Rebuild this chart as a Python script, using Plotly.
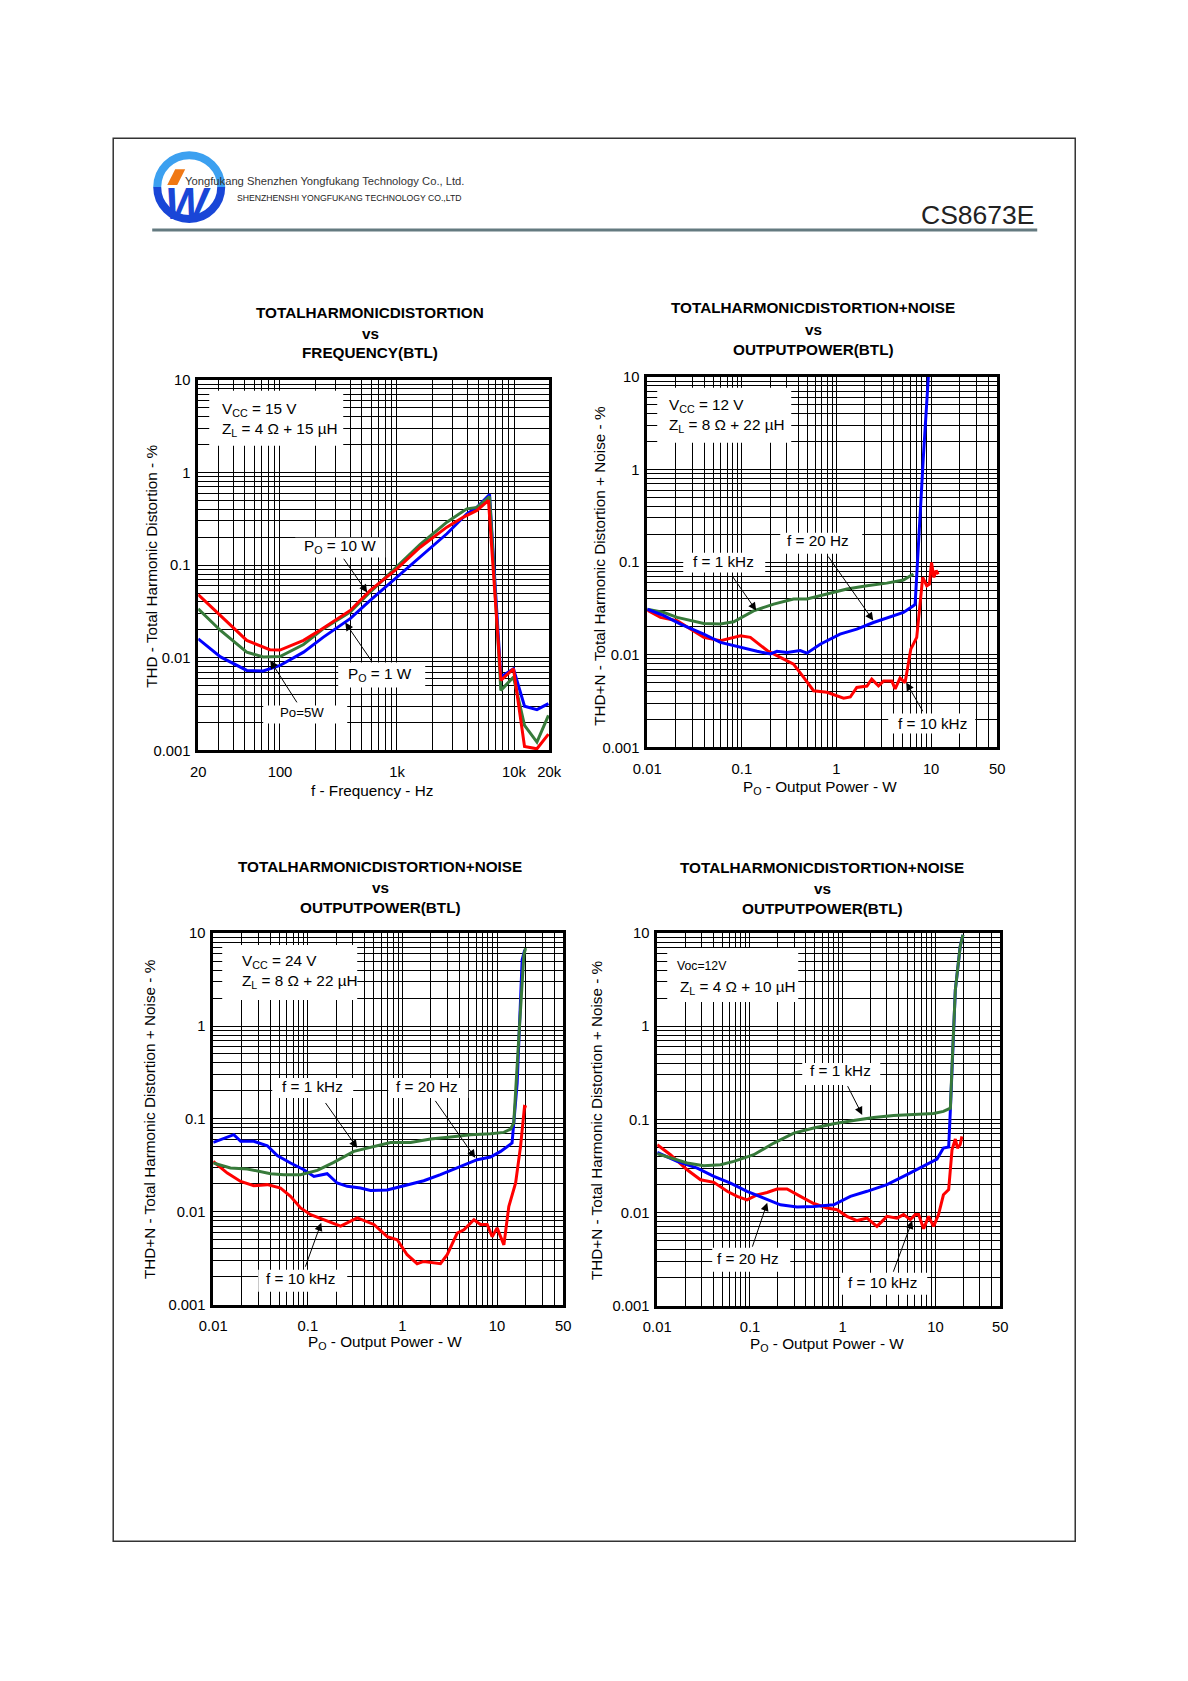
import math
import plotly.graph_objects as go

W, H = 1188, 1681          # browser window
OFF = 8                    # default body margin of the page
FW, FH = W - 2 * OFF, H - 2 * OFF
FONT = "Liberation Sans, Arial, sans-serif"
# calibration of reference pixel positions to page pixels
SX, BX = 1.0236, -14.3
SY, BY = 1.0084, -6.8
FS = 1.02

# ---------------- data ----------------
# Chart 1: THD vs frequency (BTL), VCC=15V, ZL=4ohm+15uH
freq_10w = [20, 31, 52, 82, 100, 159, 207, 398, 590, 997, 1578, 2667, 3700, 4820, 6050, 7720, 9900, 12300, 15700, 19700]
thd_10w = [0.048, 0.0286, 0.0154, 0.0122, 0.0121, 0.0154, 0.0189, 0.0324, 0.0533, 0.0912, 0.156, 0.257, 0.33, 0.389, 0.499, 0.0057, 0.0076, 0.0011, 0.00104, 0.0015]
freq_5w = [20, 31, 52, 72, 100, 159, 235, 398, 590, 997, 1578, 2667, 3950, 4820, 6180, 7720, 9900, 12300, 15700, 19700]
thd_5w = [0.0338, 0.0197, 0.0115, 0.0102, 0.0103, 0.0139, 0.0206, 0.0311, 0.0512, 0.095, 0.167, 0.291, 0.405, 0.42, 0.55, 0.00444, 0.00618, 0.00186, 0.00123, 0.00239]
freq_1w = [20, 31, 52, 72, 100, 159, 235, 398, 590, 997, 1578, 2667, 3950, 4820, 6180, 7720, 9900, 12300, 15700, 19700]
thd_1w = [0.016, 0.0102, 0.0073, 0.0072, 0.00826, 0.0115, 0.0167, 0.0264, 0.0416, 0.0743, 0.122, 0.218, 0.358, 0.42, 0.579, 0.00618, 0.0076, 0.003, 0.00275, 0.0032]

# Chart 2: THD+N vs output power, VCC=12V, ZL=8ohm+22uH
p2_1k = [0.01, 0.015, 0.0207, 0.0396, 0.0594, 0.082, 0.133, 0.217, 0.352, 0.488, 0.793, 1.29, 2.1, 3.4, 5.1, 6.5]
thd2_1k = [0.0311, 0.0286, 0.0253, 0.0218, 0.0215, 0.0227, 0.0298, 0.0352, 0.0399, 0.0399, 0.0452, 0.0512, 0.0556, 0.0593, 0.064, 0.0743]
p2_20 = [0.01, 0.015, 0.0225, 0.0396, 0.0594, 0.0966, 0.145, 0.2, 0.235, 0.3, 0.414, 0.488, 0.673, 1.09, 1.64, 2.46, 4.0, 5.1, 6.5, 6.78, 8.28, 9.35]
thd2_20 = [0.0311, 0.0264, 0.0214, 0.0167, 0.0136, 0.012, 0.0109, 0.0102, 0.0109, 0.0106, 0.0111, 0.0104, 0.013, 0.0167, 0.0189, 0.0223, 0.0264, 0.0286, 0.0338, 0.035, 1.35, 10]
p2_10k = [0.01, 0.0138, 0.0207, 0.0396, 0.0594, 0.0966, 0.123, 0.185, 0.255, 0.352, 0.45, 0.573, 0.793, 1.19, 1.4, 1.64, 2.1, 2.36, 2.78, 3.14, 3.85, 4.17, 4.7, 5.31, 6.1, 7.05, 8.15, 9.0, 9.6, 10.1, 10.7, 11.3, 11.9]
thd2_10k = [0.0303, 0.0253, 0.0233, 0.0154, 0.0142, 0.016, 0.0154, 0.0111, 0.00936, 0.00792, 0.0057, 0.00409, 0.00393, 0.0034, 0.0035, 0.00444, 0.0046, 0.00546, 0.0046, 0.0052, 0.0052, 0.00427, 0.0056, 0.005, 0.0115, 0.0154, 0.0684, 0.0556, 0.058, 0.099, 0.0684, 0.081, 0.074]

# Chart 3: THD+N vs output power, VCC=24V, ZL=8ohm+22uH
p3_20 = [0.01, 0.013, 0.0165, 0.0195, 0.0269, 0.0373, 0.0475, 0.0656, 0.0908, 0.116, 0.16, 0.204, 0.261, 0.36, 0.46, 0.69, 1.12, 1.68, 2.52, 4.11, 6.17, 8.53, 10.9, 14.4, 14.8, 16.3, 18.4, 19.6]
thd3_20 = [0.0558, 0.0622, 0.0676, 0.0573, 0.0573, 0.0514, 0.0402, 0.0335, 0.0284, 0.024, 0.0257, 0.0204, 0.0188, 0.018, 0.017, 0.0172, 0.0195, 0.0216, 0.0251, 0.0308, 0.0364, 0.0388, 0.0447, 0.055, 0.0796, 0.243, 5.16, 6.6]
p3_1k = [0.01, 0.0152, 0.0229, 0.0292, 0.0404, 0.0558, 0.0838, 0.126, 0.188, 0.306, 0.46, 0.748, 1.22, 1.98, 3.22, 5.24, 8.53, 11.8, 13.9, 15.0, 17.0, 19.2, 20.0]
thd3_1k = [0.0335, 0.0296, 0.0289, 0.0277, 0.0257, 0.025, 0.025, 0.0279, 0.034, 0.0447, 0.0498, 0.0558, 0.0558, 0.0607, 0.0637, 0.0676, 0.0693, 0.0716, 0.0778, 0.0902, 0.773, 5.85, 6.9]
p3_10k = [0.01, 0.0141, 0.0195, 0.0269, 0.0373, 0.0515, 0.0656, 0.0838, 0.107, 0.148, 0.222, 0.333, 0.499, 0.69, 0.88, 1.12, 1.43, 1.68, 2.15, 2.52, 2.97, 3.79, 4.46, 5.69, 6.68, 7.86, 8.87, 10.0, 11.8, 13.3, 15.7, 17.7, 19.5, 20.5]
thd3_10k = [0.0349, 0.0261, 0.0212, 0.0191, 0.0196, 0.018, 0.0147, 0.011, 0.0093, 0.0082, 0.007, 0.0086, 0.0073, 0.0054, 0.005, 0.00345, 0.00276, 0.00292, 0.00285, 0.00276, 0.00345, 0.0059, 0.0064, 0.0082, 0.0073, 0.0073, 0.0054, 0.0067, 0.0044, 0.0114, 0.0204, 0.0506, 0.136, 0.134]

# Chart 4: THD+N vs output power, Voc=12V, ZL=4ohm+10uH
p4_1k = [0.01, 0.0139, 0.021, 0.0318, 0.0481, 0.067, 0.11, 0.181, 0.297, 0.487, 0.8, 1.31, 2.16, 3.54, 5.82, 9.55, 12.2, 14.5, 15.1, 16.4, 18.5, 19.8]
thd4_1k = [0.0428, 0.0385, 0.034, 0.0318, 0.0326, 0.0354, 0.0418, 0.0557, 0.0713, 0.0807, 0.0899, 0.0975, 0.105, 0.11, 0.114, 0.116, 0.122, 0.132, 0.37, 2.46, 7.2, 9.6]
p4_20 = [0.01, 0.0164, 0.027, 0.0408, 0.0617, 0.093, 0.141, 0.213, 0.322, 0.487, 0.8, 1.21, 1.83, 3.0, 4.93, 7.46, 10.4, 12.2, 13.9, 14.5, 15.1, 16.4, 18.5, 19.8]
thd4_20 = [0.0442, 0.0354, 0.03, 0.0245, 0.0207, 0.0169, 0.0143, 0.0121, 0.0115, 0.0116, 0.0121, 0.0149, 0.0169, 0.0199, 0.0255, 0.0313, 0.0375, 0.0492, 0.0505, 0.127, 0.37, 2.46, 7.2, 9.6]
p4_10k = [0.01, 0.0139, 0.021, 0.0293, 0.0408, 0.0568, 0.0727, 0.093, 0.119, 0.153, 0.196, 0.251, 0.35, 0.487, 0.678, 0.869, 1.11, 1.43, 1.83, 2.34, 3.0, 3.85, 4.54, 5.36, 6.07, 6.59, 7.46, 8.44, 9.55, 10.8, 12.2, 13.9, 15.1, 16.4, 17.3, 18.5, 19.3]
thd4_10k = [0.0535, 0.0418, 0.0288, 0.0225, 0.0211, 0.0169, 0.0149, 0.0137, 0.0155, 0.0164, 0.0179, 0.0179, 0.0149, 0.0125, 0.0112, 0.0107, 0.0091, 0.0082, 0.0087, 0.0071, 0.0091, 0.0087, 0.0095, 0.0084, 0.0095, 0.0095, 0.0067, 0.0091, 0.0071, 0.0095, 0.0155, 0.0176, 0.0472, 0.0615, 0.0492, 0.0535, 0.0658]

# tick labels
y_ticks = [0.001, 0.01, 0.1, 1, 10]
y_ticktext = ["0.001", "0.01", "0.1", "1", "10"]
f_ticks = [20, 100, 1000, 10000, 20000]
f_ticktext = ["20", "100", "1k", "10k", "20k"]
p_ticks = [0.01, 0.1, 1, 10, 50]
p_ticktext = ["0.01", "0.1", "1", "10", "50"]

RED = "rgb(255,0,0)"
GREEN = "rgb(55,122,58)"
BLUE = "rgb(0,0,255)"

# minor grid positions (log decades)
y_minor = [m * 10 ** e for e in range(-3, 1) for m in range(2, 10)]
f_minor = [m * 10 ** e for e in range(1, 4) for m in range(2, 10) if 20 < m * 10 ** e < 20000]
p_minor = [m * 10 ** e for e in range(-2, 2) for m in range(2, 10) if m * 10 ** e < 50]


def PX(x):
    return (SX * x + BX - OFF) / FW


def PY(y):
    return 1 - (SY * y + BY - OFF) / FH


fig = go.Figure()

panels = [
    dict(box=(198, 549, 379, 750), xr=(20, 20000), xt=(f_ticks, f_ticktext), xm=f_minor),
    dict(box=(647, 997, 376, 747), xr=(0.01, 50), xt=(p_ticks, p_ticktext), xm=p_minor),
    dict(box=(213, 563, 933, 1305), xr=(0.01, 50), xt=(p_ticks, p_ticktext), xm=p_minor),
    dict(box=(657, 1000, 933, 1306), xr=(0.01, 50), xt=(p_ticks, p_ticktext), xm=p_minor),
]

layout_axes = {}
for i, p in enumerate(panels, start=1):
    x0, x1, y0, y1 = p["box"]
    sfx = "" if i == 1 else str(i)
    common = dict(
        type="log", showgrid=True, gridcolor="black", gridwidth=1,
        showline=True, linecolor="black", linewidth=2.5, mirror=True,
        ticks="", zeroline=False, fixedrange=True,
        tickfont=dict(size=14.5 * FS, color="black", family=FONT),
    )
    layout_axes["xaxis" + sfx] = dict(
        common, domain=[PX(x0), PX(x1)], anchor="y" + sfx,
        range=[math.log10(p["xr"][0]), math.log10(p["xr"][1])],
        tickmode="array", tickvals=p["xt"][0], ticktext=p["xt"][1],
        ticklabelstandoff=6,
        minor=dict(tickmode="array", tickvals=p["xm"], showgrid=True,
                   gridcolor="black", gridwidth=1, ticks=""),
    )
    layout_axes["yaxis" + sfx] = dict(
        common, domain=[PY(y1), PY(y0)], anchor="x" + sfx,
        range=[-3, 1], tickmode="array", tickvals=y_ticks, ticktext=y_ticktext,
        ticklabelstandoff=2,
        minor=dict(tickmode="array", tickvals=y_minor, showgrid=True,
                   gridcolor="black", gridwidth=1, ticks=""),
    )


def add_line(x, y, color, idx, name):
    sfx = "" if idx == 1 else str(idx)
    fig.add_trace(go.Scatter(x=x, y=y, mode="lines", name=name,
                             line=dict(color=color, width=3),
                             xaxis="x" + sfx, yaxis="y" + sfx,
                             showlegend=False, hoverinfo="skip"))


add_line(freq_1w, thd_1w, BLUE, 1, "PO = 1 W")
add_line(freq_5w, thd_5w, GREEN, 1, "PO = 5 W")
add_line(freq_10w, thd_10w, RED, 1, "PO = 10 W")

add_line(p2_1k, thd2_1k, GREEN, 2, "f = 1 kHz")
add_line(p2_10k, thd2_10k, RED, 2, "f = 10 kHz")
add_line(p2_20, thd2_20, BLUE, 2, "f = 20 Hz")

add_line(p3_20, thd3_20, BLUE, 3, "f = 20 Hz")
add_line(p3_10k, thd3_10k, RED, 3, "f = 10 kHz")
add_line(p3_1k, thd3_1k, GREEN, 3, "f = 1 kHz")

add_line(p4_10k, thd4_10k, RED, 4, "f = 10 kHz")
add_line(p4_20, thd4_20, BLUE, 4, "f = 20 Hz")
add_line(p4_1k, thd4_1k, GREEN, 4, "f = 1 kHz")

shapes = []
annotations = []


def white_box(x0, y0, x1, y1):
    shapes.append(dict(type="rect", xref="paper", yref="paper",
                       x0=PX(x0), x1=PX(x1), y0=PY(y1), y1=PY(y0),
                       fillcolor="white", line=dict(width=0), layer="above"))


def text(x, y, t, size=15, xanchor="center", bold=False, color="black", align="center", angle=0, family=FONT):
    annotations.append(dict(x=PX(x), y=PY(y), xref="paper", yref="paper",
                            text=("<b>%s</b>" % t) if bold else t, showarrow=False,
                            xanchor=xanchor, yanchor="middle", align=align,
                            textangle=angle,
                            font=dict(size=size * FS, color=color, family=family)))


def arrow(tx, ty, hx, hy):
    annotations.append(dict(x=PX(hx), y=PY(hy), xref="paper", yref="paper",
                            ax=(tx - hx) * SX, ay=(ty - hy) * SY, axref="pixel", ayref="pixel",
                            text="", showarrow=True, arrowhead=2, arrowsize=1.6,
                            arrowwidth=1, arrowcolor="black", standoff=0))


def bez_arc(cx, cy, r, top=True):
    k = 0.5523 * r
    s = -1 if top else 1
    pts = [(cx - r, cy), (cx - r, cy + s * k), (cx - k, cy + s * r), (cx, cy + s * r),
           (cx + k, cy + s * r), (cx + r, cy + s * k), (cx + r, cy)]
    q = [(PX(a), PY(b)) for a, b in pts]
    return "M %f,%f C %f,%f %f,%f %f,%f C %f,%f %f,%f %f,%f" % (
        q[0] + q[1] + q[2] + q[3] + q[4] + q[5] + q[6])


# ---- page frame and header ----
shapes.append(dict(type="rect", xref="paper", yref="paper",
                   x0=PX(113), x1=PX(1075), y0=PY(1542), y1=PY(137),
                   line=dict(color="#333333", width=1.5), fillcolor="rgba(0,0,0,0)"))
shapes.append(dict(type="line", xref="paper", yref="paper",
                   x0=PX(152), x1=PX(1037), y0=PY(229), y1=PY(229),
                   line=dict(color="rgb(100,122,128)", width=3)))
# logo: ring (light blue top, dark blue bottom), orange slash, W
shapes.append(dict(type="path", xref="paper", yref="paper", path=bez_arc(189, 186, 32, False),
                   line=dict(color="rgb(25,70,215)", width=8)))
shapes.append(dict(type="path", xref="paper", yref="paper", path=bez_arc(189, 186, 32, True),
                   line=dict(color="rgb(60,160,240)", width=8)))
shapes.append(dict(type="path", xref="paper", yref="paper",
                   path="M %f,%f L %f,%f L %f,%f L %f,%f Z" % (
                       PX(167), PY(184), PX(175), PY(168), PX(185), PY(168), PX(177), PY(184)),
                   fillcolor="rgb(240,120,20)", line=dict(width=0)))
text(188, 202, "<i>W</i>", size=44, bold=True, color="rgb(25,70,215)")
text(183, 180, "Yongfukang Shenzhen Yongfukang Technology Co., Ltd.", size=11,
     xanchor="left", color="#333333")
text(235, 197, "SHENZHENSHI YONGFUKANG TECHNOLOGY CO.,LTD", size=8.5,
     xanchor="left", color="#222222")
text(1037, 214, "CS8673E", size=26, xanchor="right", color="#222222")

# ---- titles ----
TS = 15
for cx, ys, l1 in [(370, (312, 333, 352), "TOTALHARMONICDISTORTION"),
                   (813, (307, 329, 349), "TOTALHARMONICDISTORTION+NOISE"),
                   (380, (866, 887, 907), "TOTALHARMONICDISTORTION+NOISE"),
                   (822, (867, 888, 908), "TOTALHARMONICDISTORTION+NOISE")]:
    l3 = "FREQUENCY(BTL)" if l1 == "TOTALHARMONICDISTORTION" else "OUTPUTPOWER(BTL)"
    text(cx, ys[0], l1, size=TS, bold=True)
    text(cx, ys[1], "vs", size=TS, bold=True)
    text(cx, ys[2], l3, size=TS, bold=True)

# ---- axis titles ----
AT = 15
text(151, 566, "THD - Total Harmonic Distortion - %", size=AT, angle=-90)
text(372, 790, "f - Frequency - Hz", size=AT)
text(599, 565, "THD+N - Total Harmonic Distortion + Noise - %", size=AT, angle=-90)
text(820, 787, "P<sub>O</sub> - Output Power - W", size=AT)
text(150, 1119, "THD+N - Total Harmonic Distortion + Noise - %", size=AT, angle=-90)
text(385, 1343, "P<sub>O</sub> - Output Power - W", size=AT)
text(597, 1120, "THD+N - Total Harmonic Distortion + Noise - %", size=AT, angle=-90)
text(827, 1345, "P<sub>O</sub> - Output Power - W", size=AT)

# ---- chart labels ----
# chart 1
white_box(209, 390, 343, 445)
text(220, 419, "V<sub>CC</sub> = 15 V<br>Z<sub>L</sub> = 4 Ω + 15 µH", xanchor="left", align="left")
white_box(295, 537, 385, 557)
text(340, 546, "P<sub>O</sub> = 10 W")
white_box(338, 662, 425, 687)
text(380, 674, "P<sub>O</sub> = 1 W")
white_box(263, 705, 347, 723)
text(302, 712, "Po=5W", size=13)
arrow(343, 557, 367, 592)
arrow(372, 662, 345, 622)
arrow(297, 703, 270, 660)

# chart 2
white_box(657, 387, 791, 442)
text(667, 415, "V<sub>CC</sub> = 12 V<br>Z<sub>L</sub> = 8 Ω + 22 µH", xanchor="left", align="left")
white_box(780, 532, 862, 553)
text(818, 540, "f = 20 Hz")
white_box(683, 552, 765, 572)
text(723, 561, "f = 1 kHz")
white_box(888, 713, 975, 733)
text(932, 723, "f = 10 kHz")
arrow(732, 575, 756, 610)
arrow(828, 555, 873, 620)
arrow(923, 712, 906, 682)

# chart 3
white_box(222, 945, 357, 1000)
text(240, 971, "V<sub>CC</sub> = 24 V<br>Z<sub>L</sub> = 8 Ω + 22 µH", xanchor="left", align="left")
white_box(272, 1078, 353, 1098)
text(312, 1087, "f = 1 kHz")
white_box(388, 1078, 468, 1098)
text(427, 1087, "f = 20 Hz")
white_box(258, 1270, 347, 1292)
text(300, 1279, "f = 10 kHz")
arrow(325, 1102, 357, 1148)
arrow(435, 1100, 475, 1158)
arrow(305, 1268, 321, 1223)

# chart 4
white_box(667, 948, 798, 1002)
text(675, 966, "Voc=12V", size=12, xanchor="left")
text(678, 987, "Z<sub>L</sub> = 4 Ω + 10 µH", xanchor="left")
white_box(802, 1063, 880, 1085)
text(840, 1071, "f = 1 kHz")
white_box(712, 1248, 790, 1272)
text(748, 1259, "f = 20 Hz")
white_box(840, 1273, 927, 1295)
text(882, 1283, "f = 10 kHz")
arrow(847, 1085, 862, 1115)
arrow(752, 1248, 767, 1203)
arrow(893, 1273, 912, 1221)

fig.update_layout(
    width=FW, height=FH,
    margin=dict(l=0, r=0, t=0, b=0),
    paper_bgcolor="white", plot_bgcolor="white",
    font=dict(family=FONT, color="black"),
    shapes=shapes, annotations=annotations,
    showlegend=False,
    **layout_axes,
)

fig.write_html("out.html")
